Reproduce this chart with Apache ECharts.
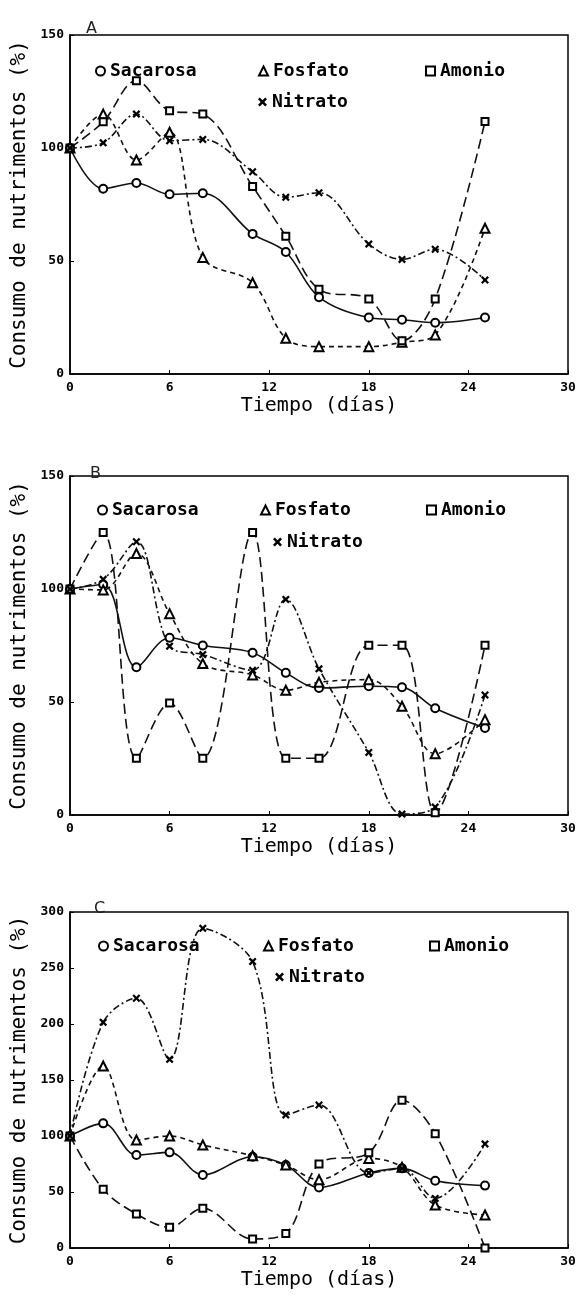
<!DOCTYPE html>
<html>
<head>
<meta charset="utf-8">
<title>Consumo de nutrimentos</title>
<script src="https://cdn.jsdelivr.net/npm/echarts@6/dist/echarts.min.js"></script>
<style>
html, body { margin: 0; padding: 0; background: #fff; }
#main { width: 579px; height: 1295px; }
</style>
</head>
<body>
<div id="main"></div>
<script type="text/javascript">
// dias de muestreo (iguales en los tres paneles)
var dias = [0, 2, 4, 6, 8, 11, 13, 15, 18, 20, 22, 25];

// panel A
var sacarosaA = [100, 82, 84.5, 79.5, 80, 62, 54, 34, 25, 24, 22.7, 25];
var fosfatoA  = [100, 115, 94.7, 107, 51.6, 40.4, 15.8, 12.1, 12.1, 14, 17.3, 64.5];
var amonioA   = [100, 111.6, 129.8, 116.5, 115, 83, 61, 37.5, 33.2, 14.7, 33.2, 111.7];
var nitratoA  = [100, 102.3, 115, 103.2, 103.8, 89.5, 78.2, 80.2, 57.5, 50.7, 55.2, 41.6];

// panel B
var sacarosaB = [100, 102, 65.4, 78.4, 75, 71.8, 62.9, 56.2, 57, 56.5, 47.2, 38.5];
var fosfatoB  = [100, 99.6, 115.7, 89.1, 67, 62, 55.2, 58.7, 59.9, 48.1, 27.1, 42.2];
var amonioB   = [100, 125, 25.1, 49.6, 25.1, 125, 25.1, 25.1, 75.1, 75.1, 1, 75.1];
var nitratoB  = [100, 104.3, 120.9, 74.7, 71, 64, 95.4, 64.7, 27.7, 0.4, 3.5, 53.1];

// panel C
var sacarosaC = [100, 111.3, 83, 85.4, 65.2, 81.5, 74.1, 54, 67, 71.1, 60, 55.7];
var fosfatoC  = [100, 162.5, 96.4, 100, 92, 82.4, 74, 61, 80, 72, 38.4, 29.5];
var amonioC   = [100, 52.4, 30.4, 18.5, 35.4, 8, 13, 75, 85, 132, 102, 0];
var nitratoC  = [100, 201.5, 223, 168.5, 285.4, 255.7, 118.8, 127.7, 67, 71, 44.3, 92.9];

var nombres = ['Sacarosa', 'Fosfato', 'Amonio', 'Nitrato'];
var yMax = [150, 150, 300];
var letras = ['A', 'B', 'C'];
var datos = [
    [sacarosaA, fosfatoA, amonioA, nitratoA],
    [sacarosaB, fosfatoB, amonioB, nitratoB],
    [sacarosaC, fosfatoC, amonioC, nitratoC]
];

// estilos
var mono = '"DejaVu Sans Mono", monospace';
var cruz = 'path://M0,2L2,0L5,3L8,0L10,2L7,5L10,8L8,10L5,7L2,10L0,8L3,5Z';
var simbolos = ['emptyCircle', 'emptyTriangle', 'emptyRect', cruz];
var tamanos = [8, 9, 7, 8];
var trazos = ['solid', [5, 4], [10, 5], [7, 3, 2, 3]];

// posicion de cada panel y de su leyenda
var paneles = [
    { top: 35,  height: 339, letra: [81, 16],  leg: [[95, 67], [258, 67], [425, 67], [258, 98]] },
    { top: 476, height: 339, letra: [85, 461], leg: [[97, 506], [260, 506], [426, 506], [273, 538]] },
    { top: 912, height: 336, letra: [89, 896], leg: [[98, 942], [263, 942], [429, 942], [275, 973]] }
];

var myChart = echarts.init(document.getElementById('main'));

var grid = [], xAxis = [], yAxis = [], series = [], legend = [], title = [];

for (var p = 0; p < 3; p++) {
    var pan = paneles[p];
    grid.push({
        left: 70, top: pan.top, width: 498, height: pan.height,
        show: true, borderColor: '#000', borderWidth: 1.5
    });
    title.push({
        text: letras[p], left: pan.letra[0], top: pan.letra[1],
        textStyle: { fontSize: 16, fontWeight: 'normal', fontFamily: '"DejaVu Sans"', color: '#222' }
    });
    xAxis.push({
        gridIndex: p, type: 'value', min: 0, max: 30, interval: 6,
        axisLine: { show: true, lineStyle: { color: '#000', width: 1.5 } },
        axisTick: { inside: true, length: 4, lineStyle: { color: '#000' } },
        splitLine: { show: false },
        axisLabel: { color: '#000', fontSize: 13, fontWeight: 'bold', fontFamily: mono, margin: 7 },
        name: 'Tiempo (días)', nameLocation: 'middle', nameGap: 22,
        nameTextStyle: { color: '#000', fontSize: 20, fontFamily: mono }
    });
    yAxis.push({
        gridIndex: p, type: 'value', min: 0, max: yMax[p], interval: 50,
        axisLine: { show: true, lineStyle: { color: '#000', width: 1.5 } },
        axisTick: { inside: true, length: 4, lineStyle: { color: '#000' } },
        splitLine: { show: false },
        axisLabel: { color: '#000', fontSize: 13, fontWeight: 'bold', fontFamily: mono, margin: 6 },
        name: 'Consumo de nutrimentos (%)', nameLocation: 'middle', nameGap: 34,
        nameTextStyle: { color: '#000', fontSize: 21, fontFamily: mono }
    });
    for (var k = 0; k < 4; k++) {
        var vals = datos[p][k];
        series.push({
            type: 'line',
            name: nombres[k],
            xAxisIndex: p, yAxisIndex: p,
            data: dias.map(function (d, j) { return [d, vals[j]]; }),
            smooth: 0.35,
            symbol: simbolos[k],
            symbolSize: tamanos[k],
            lineStyle: { color: '#111', width: 1.6, type: trazos[k] },
            itemStyle: { color: '#000', borderWidth: 1.5 },
            z: 3 + k
        });
        legend.push({
            data: [nombres[k]],
            left: pan.leg[k][0] - 5, top: pan.leg[k][1] - 10,
            icon: simbolos[k], itemWidth: 9, itemHeight: 9, itemGap: 0,
            selectedMode: false,
            textStyle: { color: '#000', fontSize: 18, fontFamily: mono, fontWeight: 'bold' }
        });
    }
}

var option = {
    backgroundColor: '#fff',
    animation: false,
    title: title,
    legend: legend,
    grid: grid,
    xAxis: xAxis,
    yAxis: yAxis,
    series: series
};

myChart.setOption(option);
</script>
</body>
</html>
